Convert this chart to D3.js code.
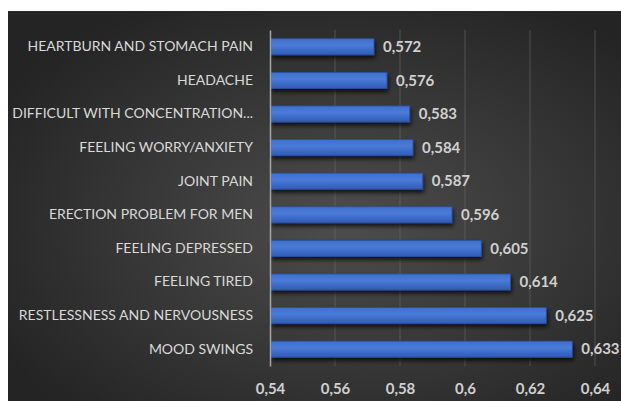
<!DOCTYPE html>
<html>
<head>
<meta charset="utf-8">
<script src="https://cdn.jsdelivr.net/npm/d3@7"></script>
<style>
  body { margin: 0; background: #fff; }
  svg { display: block; }
</style>
</head>
<body>
<svg id="chart" width="621" height="401"></svg>
<script>
var categories = ['HEARTBURN AND STOMACH PAIN', 'HEADACHE', 'DIFFICULT WITH CONCENTRATION...',
    'FEELING WORRY/ANXIETY', 'JOINT PAIN', 'ERECTION PROBLEM FOR MEN', 'FEELING DEPRESSED',
    'FEELING TIRED', 'RESTLESSNESS AND NERVOUSNESS', 'MOOD SWINGS'];
var values = [0.572, 0.576, 0.583, 0.584, 0.587, 0.596, 0.605, 0.614, 0.625, 0.633];
var ticks = [0.54, 0.56, 0.58, 0.6, 0.62, 0.64];

var svg = d3.select('#chart'),
    width = +svg.attr('width'),
    height = +svg.attr('height');
var margin = { left: 270, top: 30, right: 26, bottom: 35 };
var fmt = d3.formatLocale({ decimal: ',', thousands: '.', grouping: [3], currency: ['', ''] }).format('~g');

var defs = svg.append('defs');
// background glow
var bg = defs.append('radialGradient').attr('id', 'bg')
    .attr('cx', '55%').attr('cy', '55%').attr('r', '65%');
bg.append('stop').attr('offset', '0%').attr('stop-color', '#4d4d4d');
bg.append('stop').attr('offset', '100%').attr('stop-color', '#242424');
// bar fill
var bf = defs.append('linearGradient').attr('id', 'barfill')
    .attr('x1', 0).attr('y1', 0).attr('x2', 0).attr('y2', 1);
bf.append('stop').attr('offset', '0%').attr('stop-color', '#3f6fcc');
bf.append('stop').attr('offset', '40%').attr('stop-color', '#4a7bd8');
bf.append('stop').attr('offset', '100%').attr('stop-color', '#2f5bb5');
var sh = defs.append('filter').attr('id', 'shadow')
    .attr('x', '-5%').attr('y', '-30%').attr('width', '115%').attr('height', '190%');
sh.append('feDropShadow').attr('dx', 1).attr('dy', 3).attr('stdDeviation', 2)
    .attr('flood-color', '#000').attr('flood-opacity', 0.75);

svg.append('rect')
    .attr('x', 8).attr('y', 11)
    .attr('width', width - 8).attr('height', height - 11)
    .attr('fill', 'url(#bg)');

var x = d3.scaleLinear().domain([0.54, 0.64]).range([margin.left, 595]);
var y = d3.scaleBand().domain(categories)
    .range([margin.top, height - margin.bottom]).paddingInner(0.52).paddingOuter(0.26);

// gridlines
svg.append('g').selectAll('line')
    .data(ticks.slice(1))
    .enter().append('line')
    .attr('x1', function (d) { return x(d); })
    .attr('x2', function (d) { return x(d); })
    .attr('y1', margin.top)
    .attr('y2', height - margin.bottom)
    .attr('stroke', '#6a6a6a')
    .attr('stroke-width', 1)
    .attr('opacity', 0.6);

// bars
svg.append('g').selectAll('rect')
    .data(values)
    .enter().append('rect')
    .attr('x', x(0.54) + 1)
    .attr('y', function (d, i) { return y(categories[i]); })
    .attr('width', function (d) { return x(d) - x(0.54) - 1; })
    .attr('height', y.bandwidth())
    .attr('fill', 'url(#barfill)')
    .attr('stroke', '#2a4f9c')
    .attr('stroke-width', 0.8)
    .attr('filter', 'url(#shadow)');

// value labels
svg.append('g').selectAll('text')
    .data(values)
    .enter().append('text')
    .attr('x', function (d) { return x(d) + 9; })
    .attr('y', function (d, i) { return y(categories[i]) + y.bandwidth() / 2; })
    .attr('dy', '0.35em')
    .attr('fill', '#d0d0d0')
    .attr('font-family', 'Lato, sans-serif')
    .attr('font-size', 15)
    .attr('font-weight', 'bold')
    .text(function (d) { return fmt(d); });

// category axis
var yAxis = svg.append('g')
    .attr('transform', 'translate(' + x(0.54) + ',0)')
    .call(d3.axisLeft(y).tickSize(0).tickPadding(17));
yAxis.select('.domain').attr('stroke', '#a6a6a6').attr('stroke-width', 1.5);
yAxis.selectAll('text')
    .attr('fill', '#d9d9d9')
    .attr('font-family', 'Lato, sans-serif')
    .attr('font-size', 14);

// value axis
var xAxis = svg.append('g')
    .attr('transform', 'translate(0,' + (height - margin.bottom) + ')')
    .call(d3.axisBottom(x).tickValues(ticks).tickFormat(fmt).tickSize(0).tickPadding(17));
xAxis.select('.domain').remove();
xAxis.selectAll('text')
    .attr('fill', '#d0d0d0')
    .attr('font-family', 'Lato, sans-serif')
    .attr('font-size', 15)
    .attr('font-weight', 'bold');
</script>
</body>
</html>
